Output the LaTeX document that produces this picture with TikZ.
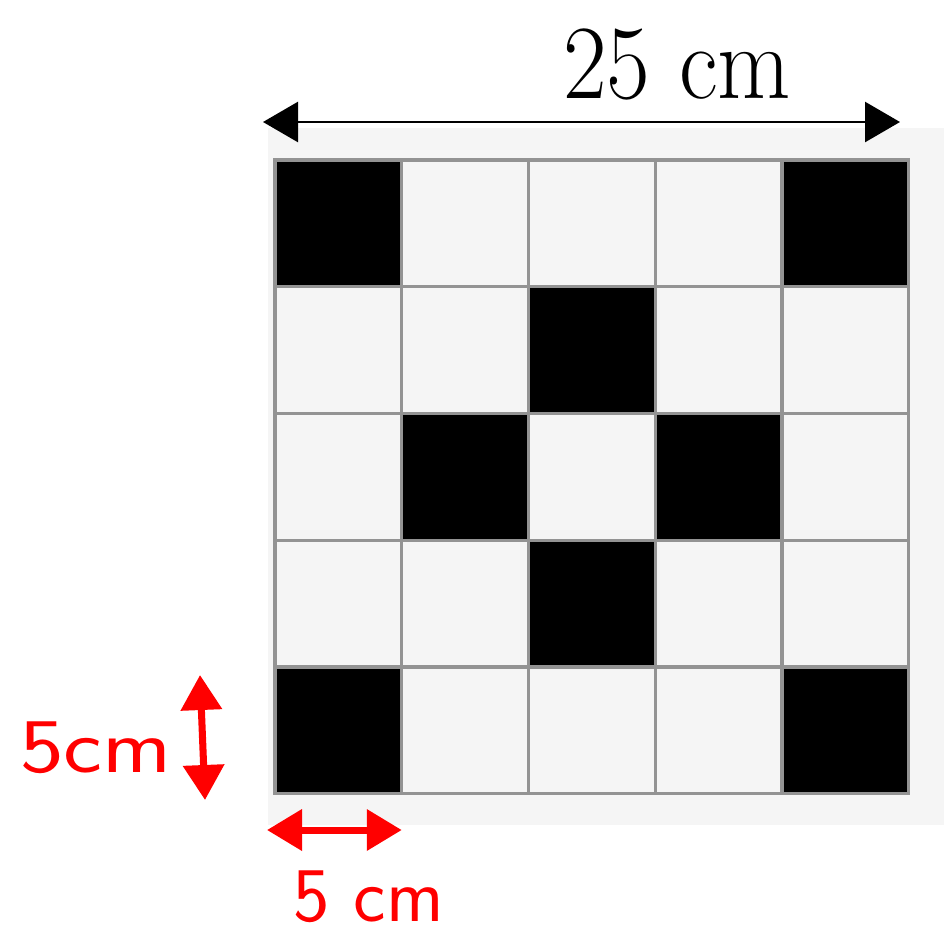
\documentclass[tikz,border=0pt]{standalone}
\usepackage{fontspec}
\usepackage{graphicx}
\usepackage{tikz}
\usetikzlibrary{arrows.meta,positioning,calc}

\begin{document}
\begin{tikzpicture}[
  cell/.style={draw=gray!85,line width=1.8pt,minimum size=25.35mm,inner sep=0pt,outer sep=0pt},
  lite/.style={cell,fill=black!4},
  dark/.style={cell,fill=black},
  dim/.style={{Triangle[length=7mm,width=8mm]}-{Triangle[length=7mm,width=8mm]},line width=1.5pt},
  hand/.style={{Triangle[length=7mm,width=8mm]}-{Triangle[length=7mm,width=8mm]},line width=4pt,draw=red},
  handtxt/.style={text=red,font=\sffamily\fontsize{44}{44}\selectfont,inner sep=0pt,anchor=base west}
]
\useasboundingbox (0,0) rectangle (18.88,-18.70);

%%%%%%%%%%%%%%%%%%%%%% backdrop %%%%%%%%%%%%%%%%%%%%%%%%%%%%%%%%%%%%%%%%%%%
\fill[black!4] (5.36,-2.56) rectangle (18.88,-16.5);

%%%%%%%%%%%%%%%%%%%%%% 5x5 grid %%%%%%%%%%%%%%%%%%%%%%%%%%%%%%%%%%%%%%%%%%
\foreach \r in {0,...,4}{
  \foreach \c in {0,...,4}{
    \pgfmathtruncatemacro\d{abs(\r-2)+abs(\c-2)}
    \ifnum\d=1 \def\shade{dark}\else\ifnum\d=4 \def\shade{dark}\else\def\shade{lite}\fi\fi
    \node[\shade] (sq-\r-\c) at ({6.7675+2.535*\c},{-4.4675-2.535*\r}) {};
  }
}

%%%%%%%%%%%%%%%%%%%%%% overall width %%%%%%%%%%%%%%%%%%%%%%%%%%%%%%%%%%%%%
\coordinate (wl) at (5.26,-2.44);
\coordinate (wr) at (18.0,-2.44);
\draw[dim] (wl) -- (wr);
\node[anchor=base west,inner sep=0pt] (wlbl) at (11.26,-1.96)
  {\scalebox{0.9}[1]{\fontsize{60}{60}\selectfont 25 cm}};

%%%%%%%%%%%%%%%%%%%%%% red notes on one cell %%%%%%%%%%%%%%%%%%%%%%%%%%%%%
\coordinate (vt) at ($(sq-4-0.north west)+(-1.5,-0.16)$);
\coordinate (vb) at ($(sq-4-0.south west)+(-1.4,-0.125)$);
\draw[hand] (vt) -- (vb);
\node[handtxt] (vlbl) at (0.4,-15.44) {\scalebox{1.2}[1]{5cm}};

\coordinate (hl) at ($(sq-4-0.south west)+(-0.16,-0.725)$);
\coordinate (hr) at ($(sq-4-0.south east)+(0,-0.725)$);
\draw[hand] (hl) -- (hr);
\node[handtxt] (hlbl) at (5.86,-18.42) {5 cm};
\end{tikzpicture}
\end{document}
